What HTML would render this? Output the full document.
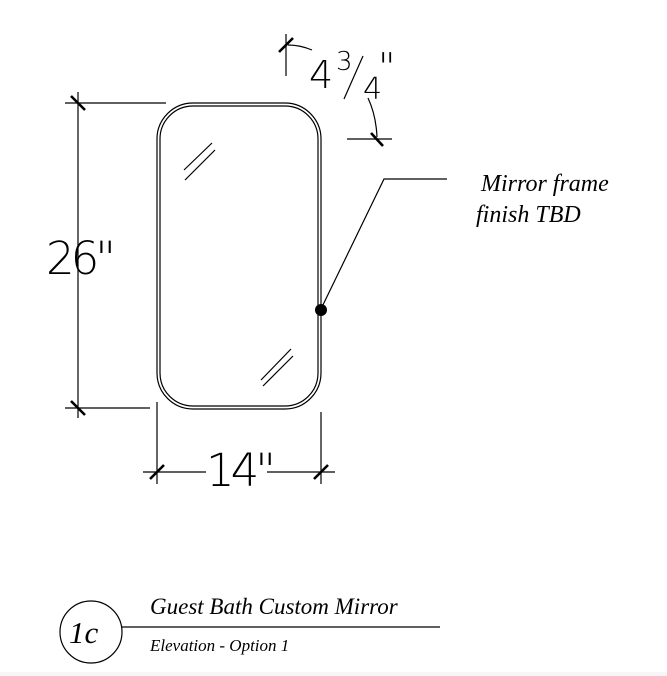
<!DOCTYPE html>
<html><head><style>
html,body{margin:0;padding:0;background:#fff;}
svg{display:block;}
.d{font-family:"DejaVu Sans","Liberation Sans",sans-serif;font-weight:200;fill:#000;letter-spacing:-4px;}
.s{font-family:"Liberation Serif",serif;font-style:italic;fill:#000;}
</style></head><body>
<svg width="667" height="676" viewBox="0 0 667 676" xmlns="http://www.w3.org/2000/svg">
<rect x="0" y="672" width="667" height="4" fill="#f6f6f6"/>
<g fill="none" stroke="#000" stroke-width="1.2">
<rect x="157" y="103" width="164" height="306" rx="36" ry="36"/>
<rect x="160" y="106" width="158" height="300" rx="33" ry="33"/>
<line x1="184" y1="170" x2="212" y2="143"/>
<line x1="185" y1="180" x2="215" y2="150"/>
<line x1="261" y1="380" x2="291" y2="349"/>
<line x1="263" y1="386" x2="293" y2="356"/>
<line x1="78" y1="92" x2="78" y2="418"/>
<line x1="65" y1="103" x2="166" y2="103"/>
<line x1="65" y1="408" x2="150" y2="408"/>
<line x1="157" y1="402" x2="157" y2="484"/>
<line x1="321" y1="412" x2="321" y2="484"/>
<line x1="143" y1="472" x2="206" y2="472"/>
<line x1="267" y1="472" x2="335" y2="472"/>
<line x1="286" y1="34" x2="286" y2="76"/>
<path d="M288,45 Q300,45 312,50"/>
<line x1="347" y1="139" x2="392" y2="139"/>
<path d="M368,98 Q376,115 377,137"/>
<polyline points="321,309 384,179 447,179"/>
<circle cx="91" cy="632" r="31"/>
<line x1="122" y1="627" x2="440" y2="627"/>
</g>
<g stroke="#000" stroke-width="2.6">
<line x1="71" y1="96" x2="85" y2="110"/>
<line x1="71" y1="401" x2="85" y2="415"/>
<line x1="150" y1="479" x2="164" y2="465"/>
<line x1="314" y1="479" x2="328" y2="465"/>
<line x1="279" y1="52" x2="293" y2="38"/>
<line x1="371" y1="133" x2="383" y2="146"/>
</g>
<circle cx="321" cy="310" r="6" fill="#000"/>
<text class="d" x="46" y="274" font-size="45">26"</text>
<text class="d" x="206" y="486" font-size="45">14"</text>
<text class="d" x="309" y="88" font-size="38">4</text>
<text class="d" x="336" y="70" font-size="26">3</text>
<line x1="344" y1="99" x2="363" y2="56" stroke="#000" stroke-width="1.2"/>
<text class="d" x="363" y="99" font-size="30">4</text>
<text class="d" x="378" y="80" font-size="38">"</text>
<text class="s" x="481" y="191" font-size="24">Mirror frame</text>
<text class="s" x="476" y="222" font-size="24">finish TBD</text>
<text class="s" x="69" y="643" font-size="31">1c</text>
<text class="s" x="150" y="614" font-size="23">Guest Bath Custom Mirror</text>
<text class="s" x="150" y="651" font-size="17">Elevation - Option 1</text>
</svg>
</body></html>
